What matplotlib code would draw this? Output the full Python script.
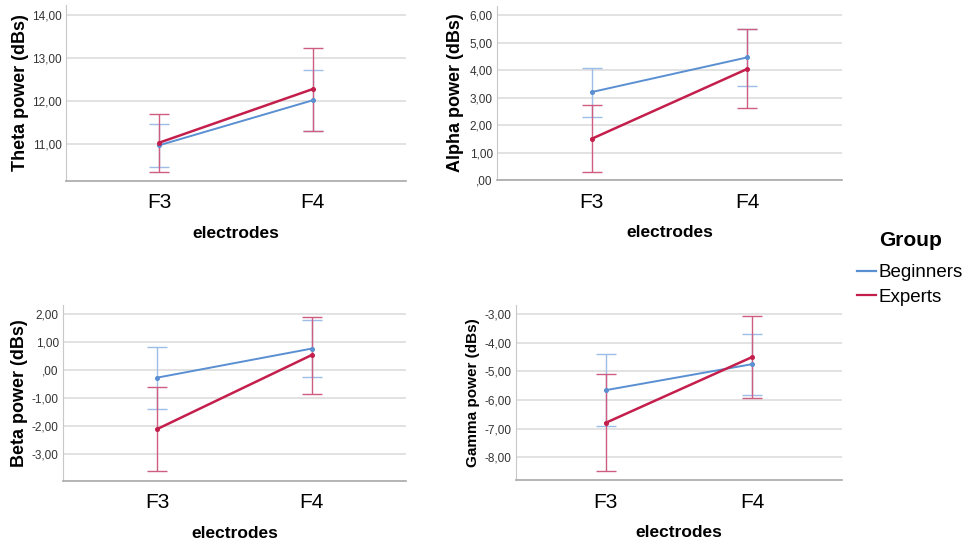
import matplotlib
matplotlib.use("Agg")
import matplotlib.pyplot as plt
from matplotlib.lines import Line2D
from matplotlib.ticker import FuncFormatter, FixedLocator
import numpy as np

plt.rcParams['font.family'] = ['Liberation Sans', 'DejaVu Sans']

electrodes = ["F3", "F4"]
groups = ["Beginners", "Experts"]

# Estimated marginal means with 95% CI (dBs)
theta_beg_mean = [10.98, 12.02]
theta_beg_lo = [10.48, 11.32]
theta_beg_hi = [11.46, 12.72]
theta_exp_mean = [11.04, 12.28]
theta_exp_lo = [10.36, 11.32]
theta_exp_hi = [11.70, 13.23]

alpha_beg_mean = [3.20, 4.46]
alpha_beg_lo = [2.30, 3.41]
alpha_beg_hi = [4.08, 5.48]
alpha_exp_mean = [1.50, 4.04]
alpha_exp_lo = [0.29, 2.63]
alpha_exp_hi = [2.72, 5.48]

beta_beg_mean = [-0.27, 0.77]
beta_beg_lo = [-1.39, -0.23]
beta_beg_hi = [0.83, 1.81]
beta_exp_mean = [-2.11, 0.54]
beta_exp_lo = [-3.62, -0.85]
beta_exp_hi = [-0.61, 1.90]

gamma_beg_mean = [-5.66, -4.75]
gamma_beg_lo = [-6.91, -5.82]
gamma_beg_hi = [-4.41, -3.70]
gamma_exp_mean = [-6.80, -4.50]
gamma_exp_lo = [-8.49, -5.93]
gamma_exp_hi = [-5.10, -3.07]

theta_ticks = [11, 12, 13, 14]
alpha_ticks = [0, 1, 2, 3, 4, 5, 6]
beta_ticks = [-3, -2, -1, 0, 1, 2]
gamma_ticks = [-8, -7, -6, -5, -4, -3]

BLUE = "#5a8fd2"
RED = "#c41f4c"
BLUE_ERR = "#9dbde6"
RED_ERR = "#cf5d80"
GRID = "#dadada"

W, H = 976, 542


def spss_fmt(v, pos=None):
    s = f"{v:.2f}".replace(".", ",")
    if s.startswith("0,"):
        s = s[1:]
    elif s.startswith("-0,"):
        s = "-" + s[2:]
    return s


# panel boxes in pixels: left, top, right, bottom
panels = [
    dict(box=(66, 5, 406, 181), ylim=(10.15, 14.23), ticks=theta_ticks,
         ylabel="Theta power (dBs)", ylsize=13, labx=29,
         b=(theta_beg_mean, theta_beg_lo, theta_beg_hi),
         e=(theta_exp_mean, theta_exp_lo, theta_exp_hi)),
    dict(box=(497, 6, 842, 180), ylim=(0.0, 6.33), ticks=alpha_ticks,
         ylabel="Alpha power (dBs)", ylsize=13, labx=464,
         b=(alpha_beg_mean, alpha_beg_lo, alpha_beg_hi),
         e=(alpha_exp_mean, alpha_exp_lo, alpha_exp_hi)),
    dict(box=(63, 305, 406, 481), ylim=(-3.97, 2.33), ticks=beta_ticks,
         ylabel="Beta power (dBs)", ylsize=13, labx=28,
         b=(beta_beg_mean, beta_beg_lo, beta_beg_hi),
         e=(beta_exp_mean, beta_exp_lo, beta_exp_hi)),
    dict(box=(516, 305, 842, 480), ylim=(-8.79, -2.69), ticks=gamma_ticks,
         ylabel="Gamma power (dBs)", ylsize=11, labx=480,
         b=(gamma_beg_mean, gamma_beg_lo, gamma_beg_hi),
         e=(gamma_exp_mean, gamma_exp_lo, gamma_exp_hi)),
]

fig = plt.figure(figsize=(W / 100, H / 100), dpi=100)
x = np.arange(len(electrodes))

for p in panels:
    l, t, r, b = p["box"]
    ax = fig.add_axes([l / W, (H - b) / H, (r - l) / W, (b - t) / H])
    ax.set_xlim(-0.61, 1.61)
    ax.set_ylim(*p["ylim"])
    ax.yaxis.set_major_locator(FixedLocator(p["ticks"]))
    ax.yaxis.set_major_formatter(FuncFormatter(spss_fmt))
    ax.set_xticks(x)
    ax.set_xticklabels(electrodes, fontsize=15)
    ax.tick_params(axis="both", length=0)
    ax.tick_params(axis="y", labelsize=8.5, pad=3, labelcolor="#333333")
    ax.tick_params(axis="x", pad=9)
    ax.grid(axis="y", color=GRID, linewidth=1.1)
    ax.set_axisbelow(True)
    for s in ["top", "right"]:
        ax.spines[s].set_visible(False)
    ax.spines["left"].set_color("#c8c8c8")
    ax.spines["bottom"].set_color("#a8a8a8")
    ax.spines["bottom"].set_linewidth(1.2)

    for (mean, lo, hi), col, ecol, lw in [(p["b"], BLUE, BLUE_ERR, 1.4),
                                          (p["e"], RED, RED_ERR, 1.8)]:
        mean = np.array(mean)
        err = np.vstack([mean - np.array(lo), np.array(hi) - mean])
        ax.errorbar(x, mean, yerr=err, fmt="none", ecolor=ecol, elinewidth=1.0,
                    capsize=7.5, capthick=1.0, zorder=3)
        ax.plot(x, mean, color=col, linewidth=lw, marker="o", markersize=2.6,
                zorder=4)

    ax.set_xlabel("electrodes", fontsize=12.5, fontweight="bold", labelpad=10)
    ax.set_ylabel(p["ylabel"], fontsize=p["ylsize"], fontweight="bold")
    ax.yaxis.set_label_coords((p["labx"] - l) / (r - l), 0.5)

# legend: title drawn separately so its gap to the entries can be set freely
fig.text(911 / W, 1 - 241 / H, "Group", fontsize=15, fontweight="bold",
         ha="center", va="center")
handles = [Line2D([], [], color=BLUE, linewidth=1.6),
           Line2D([], [], color=RED, linewidth=1.6)]
fig.legend(handles, groups, loc="upper left",
           bbox_to_anchor=(857 / W, 1 - 264 / H), frameon=False, fontsize=13.5,
           handlelength=1.0, handletextpad=0.15, labelspacing=0.4,
           borderaxespad=0, borderpad=0)

fig.savefig("out.png", dpi=100)
